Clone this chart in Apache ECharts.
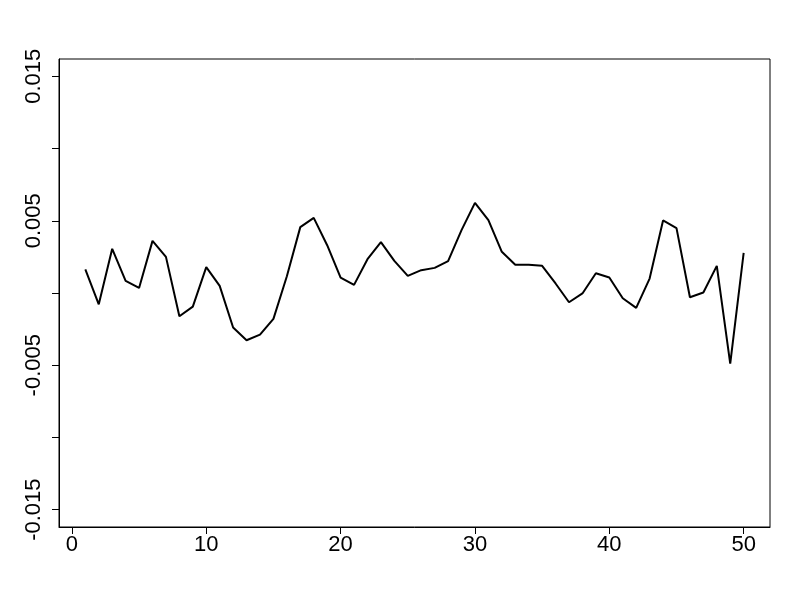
<!DOCTYPE html>
<html>
<head>
<meta charset="utf-8">
<script src="https://cdn.jsdelivr.net/npm/echarts@6/dist/echarts.min.js"></script>
<style>
html,body{margin:0;padding:0;background:#fff;}
#chart{width:800px;height:600px;}
</style>
</head>
<body>
<div id="chart"></div>
<script>
const xIndex = [1,2,3,4,5,6,7,8,9,10,11,12,13,14,15,16,17,18,19,20,21,22,23,24,25,26,27,28,29,30,31,32,33,34,35,36,37,38,39,40,41,42,43,44,45,46,47,48,49,50];
const seriesValues = [0.00163,-0.00078,0.00306,0.00084,0.00035,0.00361,0.00250,-0.00161,-0.00094,0.00179,
  0.00049,-0.00239,-0.00327,-0.00288,-0.00179,0.00116,0.00456,0.00520,0.00331,0.00107,
  0.00056,0.00234,0.00352,0.00222,0.00118,0.00158,0.00174,0.00220,0.00435,0.00624,
  0.00504,0.00285,0.00195,0.00195,0.00188,0.00066,-0.00064,-0.00003,0.00137,0.00107,
  -0.00036,-0.00103,0.00100,0.00502,0.00449,-0.00029,0.00003,0.00188,-0.00489,0.00278];
const xTicks = [0,10,20,30,40,50];
const yTicks = [-0.015,-0.01,-0.005,0,0.005,0.01,0.015];
const yTickLabels = [-0.015,-0.005,0.005,0.015];

const chart = echarts.init(document.getElementById('chart'), null, {renderer:'canvas'});
const font = '"Liberation Sans", Arial, sans-serif';
chart.setOption({
  animation:false,
  backgroundColor:'#fff',
  grid:{left:59,right:30,top:59,bottom:73,show:true,borderColor:'#000',borderWidth:1,backgroundColor:'transparent'},
  xAxis:{
    type:'value', min:-0.96, max:51.96,
    splitLine:{show:false},
    axisLine:{show:true,onZero:false,lineStyle:{color:'#000',width:1}},
    axisTick:{show:true,length:7,lineStyle:{color:'#000'},customValues:xTicks},
    axisLabel:{color:'#000',fontSize:22,fontFamily:font,margin:7,customValues:xTicks,
      formatter:v=>String(v)}
  },
  yAxis:{
    type:'value', min:-0.0162, max:0.0162,
    splitLine:{show:false},
    axisLine:{show:true,onZero:false,lineStyle:{color:'#000',width:1}},
    axisTick:{show:true,length:7,lineStyle:{color:'#000'},customValues:yTicks},
    axisLabel:{color:'#000',fontSize:22,fontFamily:font,margin:14,rotate:90,customValues:yTickLabels,
      formatter:v=>v.toFixed(3)}
  },
  series:[{
    type:'line',
    data:xIndex.map((x,i)=>[x,seriesValues[i]]),
    showSymbol:false,
    symbol:'none',
    lineStyle:{color:'#000',width:2},
    itemStyle:{color:'#000'}
  }]
});
</script>
</body>
</html>
